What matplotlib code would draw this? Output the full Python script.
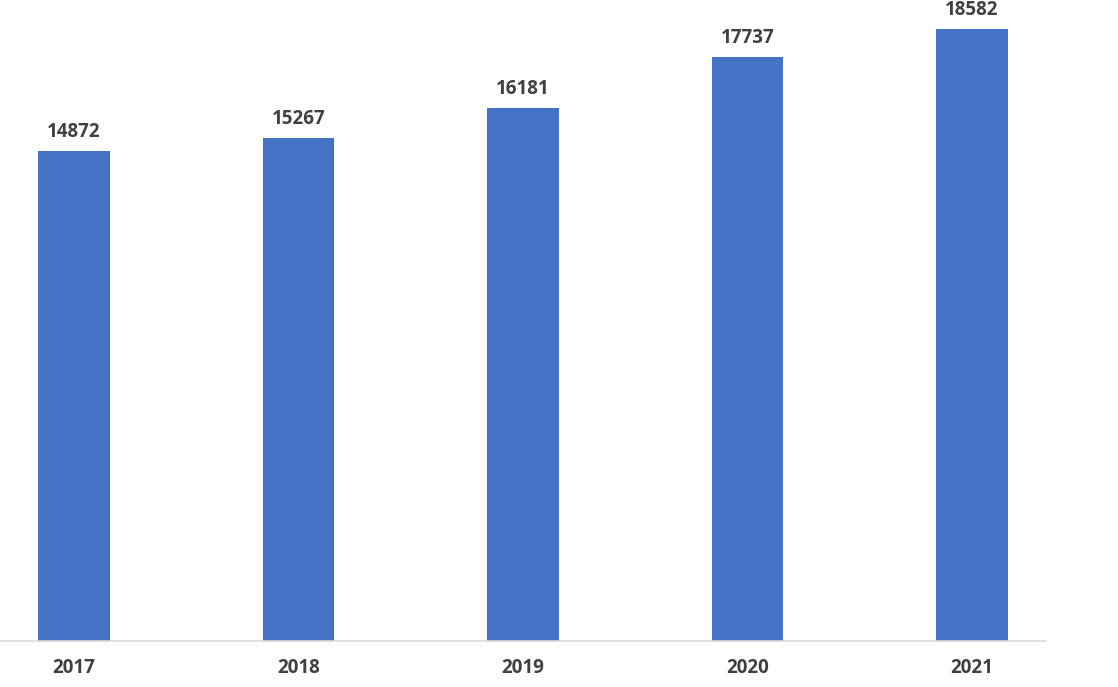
import matplotlib.pyplot as plt

years = ["2017", "2018", "2019", "2020", "2021"]
values = [14872, 15267, 16181, 17737, 18582]

bar_color = "#4472C4"
text_color = "#404040"

fig = plt.figure(figsize=(11.18, 6.87), dpi=100)
ax = fig.add_axes([0.0, 1 - 641 / 687, 1046 / 1118, 641 / 687])

x = list(range(len(years)))
bars = ax.bar(x, values, width=0.317, color=bar_color, zorder=2)

ax.set_xlim(-0.33, len(years) - 1 + 0.33)
ax.set_ylim(0, 19463)

for rect, v in zip(bars, values):
    ax.annotate(f"{v}", (rect.get_x() + rect.get_width() / 2, v),
                xytext=(0, 6.5), textcoords="offset points",
                ha="center", va="bottom", fontsize=13.5, fontweight="bold",
                color=text_color, family="Open Sans")

ax.set_xticks(x)
ax.set_xticklabels(years, fontsize=13.5, fontweight="bold", color=text_color,
                   family="Open Sans")
ax.tick_params(axis="x", length=0, pad=12)
ax.set_yticks([])

for s in ["top", "right", "left"]:
    ax.spines[s].set_visible(False)
ax.spines["bottom"].set_color("#D9D9D9")
ax.spines["bottom"].set_linewidth(1.2)

fig.savefig("out.png", dpi=100)
